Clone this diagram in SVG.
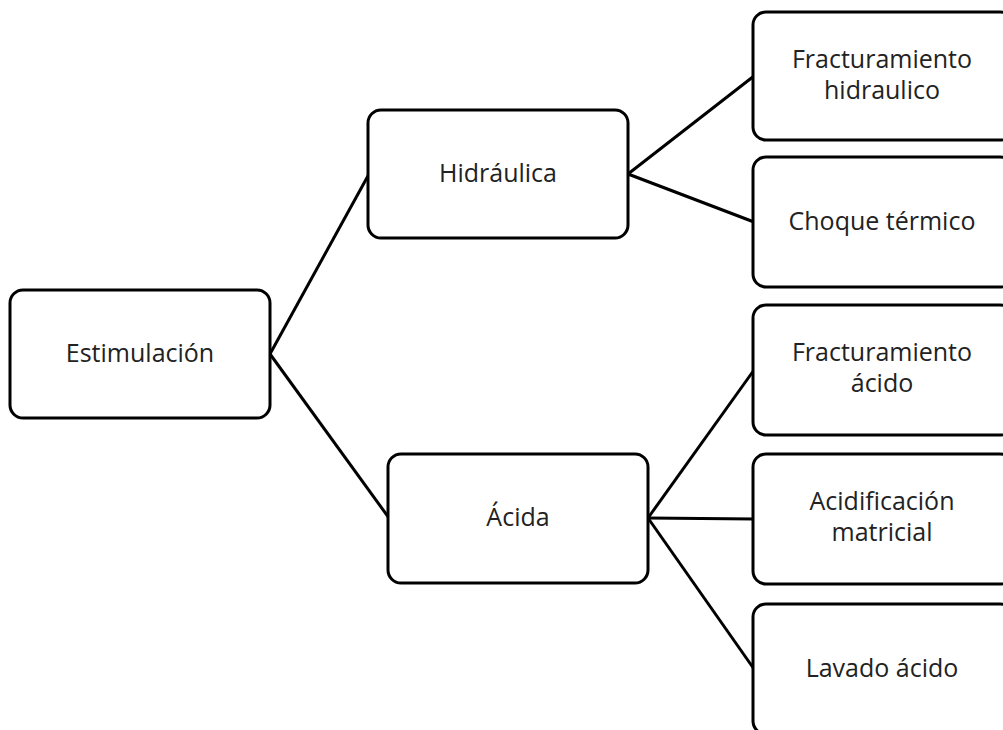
<svg xmlns="http://www.w3.org/2000/svg" width="1003" height="730" viewBox="0 0 1003 730">
<style>
.box{fill:#fff;stroke:#000;stroke-width:3}
.lbl{font-family:"Open Sans","Liberation Sans",sans-serif;font-size:25px;fill:#222;text-anchor:middle}
.conn line{stroke:#000;stroke-width:3}
</style>
<rect width="1003" height="730" fill="#fff"/>
<g class="conn" id="connectors">
<line x1="270" y1="354" x2="369" y2="174"/>
<line x1="270" y1="354" x2="389" y2="518"/>
<line x1="628" y1="174" x2="754" y2="76"/>
<line x1="628" y1="174" x2="754" y2="222"/>
<line x1="648" y1="518" x2="754" y2="370"/>
<line x1="648" y1="518" x2="754" y2="519"/>
<line x1="648" y1="518" x2="754" y2="669"/>
</g>
<g id="n-estimulacion"><rect class="box" x="10" y="290" width="260" height="128" rx="13"/><text class="lbl" x="140" y="362">Estimulación</text></g>
<g id="n-hidraulica"><rect class="box" x="368" y="110" width="260" height="128" rx="13"/><text class="lbl" x="498" y="182">Hidráulica</text></g>
<g id="n-acida"><rect class="box" x="388" y="454" width="260" height="129" rx="13"/><text class="lbl" x="518" y="526">Ácida</text></g>
<g id="n-frac-hidraulico"><rect class="box" x="753" y="12" width="260" height="128" rx="13"/><text class="lbl" x="882" y="68">Fracturamiento</text><text class="lbl" x="882" y="99">hidraulico</text></g>
<g id="n-choque"><rect class="box" x="753" y="157" width="260" height="130" rx="13"/><text class="lbl" x="882" y="230">Choque térmico</text></g>
<g id="n-frac-acido"><rect class="box" x="753" y="305" width="260" height="130" rx="13"/><text class="lbl" x="882" y="361">Fracturamiento</text><text class="lbl" x="882" y="392">ácido</text></g>
<g id="n-acidificacion"><rect class="box" x="753" y="454" width="260" height="130" rx="13"/><text class="lbl" x="882" y="510">Acidificación</text><text class="lbl" x="882" y="541">matricial</text></g>
<g id="n-lavado"><rect class="box" x="753" y="604" width="260" height="130" rx="13"/><text class="lbl" x="882" y="677">Lavado ácido</text></g>
</svg>
